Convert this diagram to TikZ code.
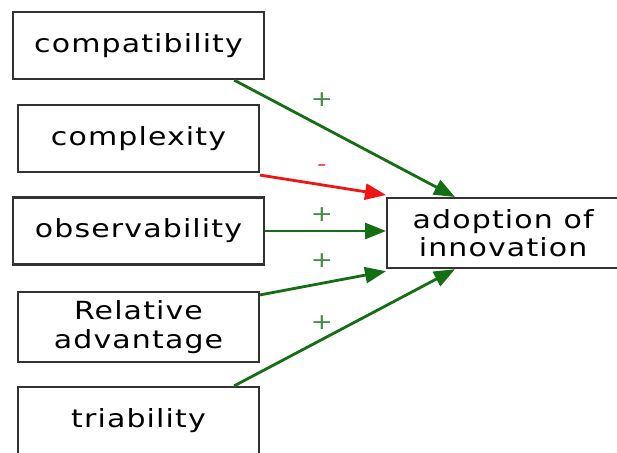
\documentclass[tikz,border=0pt]{standalone}
\usepackage{fontspec}
\setmainfont{DejaVu Sans}[FakeStretch=1.2,LetterSpace=4.5]
\usetikzlibrary{arrows.meta}
\definecolor{posgreen}{RGB}{20,110,20}
\definecolor{negred}{RGB}{240,20,20}
\tikzset{
  factor/.style={draw=black!80, line width=2.2pt, fill=white, align=center,
    inner sep=0pt, font=\fontsize{25}{28.5}\selectfont},
  plusarrow/.style={draw=posgreen, line width=2.8pt, -{Triangle[length=21pt,width=16pt]}},
  minusarrow/.style={draw=negred, line width=2.8pt, -{Triangle[length=21pt,width=16pt]}},
  sign/.style={font=\fontsize{22}{22}\selectfont, text=posgreen!80},
}
\begin{document}
\begin{tikzpicture}[x=1pt,y=-1pt]
\useasboundingbox (0,0) rectangle (617,452);
\clip (0,0) rectangle (617,452);
\fill[white] (0,0) rectangle (617,452);
% factor boxes on the left
\node[factor, minimum width=251pt, minimum height=67pt] (compat) at (138.5,45.5) {compatibility};
\node[factor, minimum width=241pt, minimum height=67pt] (complex) at (138.5,138.5) {complexity};
\node[factor, minimum width=251pt, minimum height=67pt] (observ) at (138.5,231) {observability};
\node[factor, minimum width=241pt, minimum height=70pt] (reladv) at (138.5,327) {Relative\\advantage};
\node[factor, minimum width=241pt, minimum height=67pt] (trial) at (138.5,420.5) {triability};
% outcome box
\node[factor, minimum width=240pt, minimum height=70pt, anchor=north west] (adopt) at (386,197) {\hspace*{-8pt}adoption of\\\hspace*{-8pt}innovation};
% influences
\draw[plusarrow] ([xshift=-31pt]compat.south east) -- ([xshift=69pt]adopt.north west);
\draw[minusarrow] ([yshift=-2pt]complex.south east) -- ([yshift=2pt]adopt.north west);
\draw[plusarrow] (observ.east) -- (observ.east -| adopt.west);
\draw[plusarrow] ([yshift=-4pt]reladv.north east) -- ([yshift=-2pt]adopt.south west);
\draw[plusarrow] ([xshift=-26pt]trial.north east) -- ([xshift=69pt]adopt.south west);
% signs
\node[sign] (s1) at (322,100) {+};
\node[sign, text=negred!80] (s2) at (322,168) {-};
\node[sign] (s3) at (322,215) {+};
\node[sign] (s4) at (322,261) {+};
\node[sign] (s5) at (322,323) {+};
\end{tikzpicture}
\end{document}
